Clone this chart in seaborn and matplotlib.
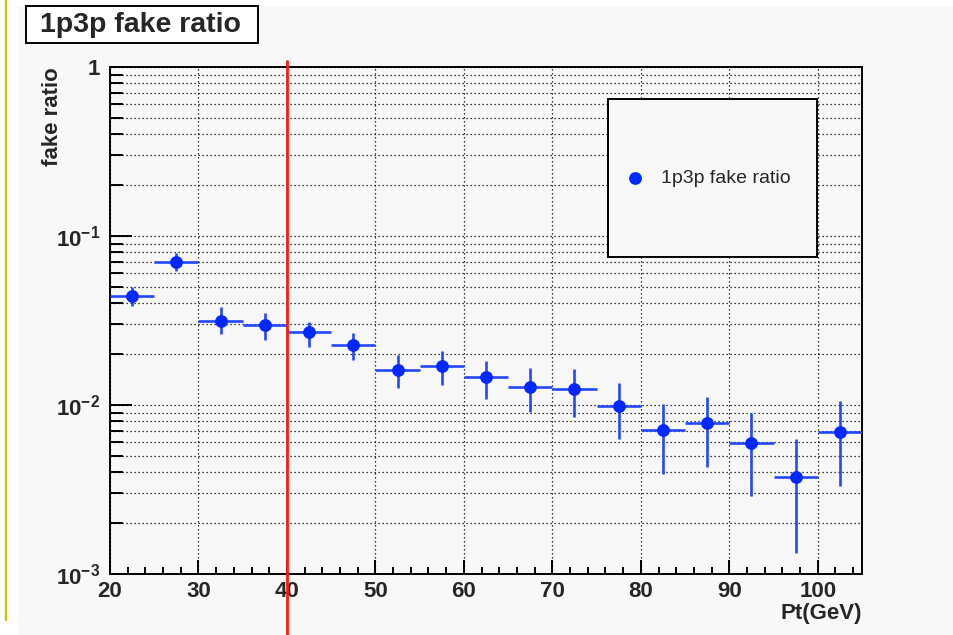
import numpy as np
import pandas as pd
import matplotlib
matplotlib.use("Agg")
import matplotlib.pyplot as plt
import seaborn as sns
from matplotlib.ticker import FixedLocator, FixedFormatter, MultipleLocator, NullFormatter
from matplotlib.patches import Rectangle
from matplotlib.lines import Line2D

# ---------------- data ----------------
pt_center = [22.5, 27.5, 32.5, 37.5, 42.5, 47.5, 52.5, 57.5, 62.5,
             67.5, 72.5, 77.5, 82.5, 87.5, 92.5, 97.5, 102.5]
bin_half_width = [2.5] * 17
fake_ratio = [0.0442, 0.0705, 0.0315, 0.0296, 0.0269, 0.0225, 0.0161, 0.0171, 0.0147,
              0.0127, 0.0125, 0.00986, 0.00711, 0.00779, 0.00593, 0.00377, 0.00695]
ratio_high = [0.0501, 0.0797, 0.0379, 0.0352, 0.0311, 0.0266, 0.0198, 0.0210, 0.0183,
              0.0166, 0.0163, 0.01345, 0.01014, 0.0112, 0.0090, 0.00632, 0.01052]
ratio_low = [0.0385, 0.0621, 0.0262, 0.0243, 0.0219, 0.01846, 0.01265, 0.01312, 0.01081,
             0.0091, 0.00853, 0.00627, 0.00391, 0.00428, 0.0029, 0.00133, 0.00332]
pt_cut = 40
x_ticks = [20, 30, 40, 50, 60, 70, 80, 90, 100]
y_ticks = [1e-3, 1e-2, 1e-1, 1]
y_tick_labels = [r"$\mathbf{10^{-3}}$", r"$\mathbf{10^{-2}}$", r"$\mathbf{10^{-1}}$", r"$\mathbf{1}$"]
title_text = "1p3p fake ratio"
legend_text = "1p3p fake ratio"
x_label = "Pt(GeV)"
y_label = "fake ratio"

df = pd.DataFrame({"pt": pt_center, "ratio": fake_ratio,
                   "hi": ratio_high, "lo": ratio_low, "hw": bin_half_width})

# ---------------- style ----------------
sns.set_style("white")
plt.rcParams["font.family"] = ["Liberation Sans", "DejaVu Sans"]
plt.rcParams["mathtext.fontset"] = "custom"
plt.rcParams["mathtext.bf"] = "Liberation Sans:bold"
plt.rcParams["mathtext.rm"] = "Liberation Sans:bold"

BG = "#f8f8f8"
BLUE = "#0028ff"
EBLUE = "#2448ff"

W, H = 954, 635
fig = plt.figure(figsize=(W / 100, H / 100), dpi=100, facecolor=BG)

# screenshot frame pieces
fig.add_artist(Rectangle((0, 0), 18 / W, 1, transform=fig.transFigure, fc="white", ec="none", zorder=0))
fig.add_artist(Rectangle((0, 1 - 7 / H), 1, 7 / H, transform=fig.transFigure, fc="white", ec="none", zorder=0))
fig.add_artist(Line2D([6.2 / W, 6.2 / W], [1 - 620 / H, 1], transform=fig.transFigure,
                      color="#c8c800", lw=1.7, zorder=1))

L, R, T, B = 110, 862, 67, 574
ax = fig.add_axes([L / W, 1 - B / H, (R - L) / W, (B - T) / H])
ax.set_facecolor(BG)

ax.set_yscale("log")
ax.set_xlim(20, 105)
ax.set_ylim(1e-3, 1)

# grid
ax.set_axisbelow(True)
ax.grid(True, which="major", axis="x", color="black", linestyle=(0, (1, 2.2)), lw=0.9)
ax.grid(True, which="both", axis="y", color="black", linestyle=(0, (1, 2.2)), lw=0.9)

# error bars
ax.errorbar(df["pt"], df["ratio"], xerr=df["hw"],
            yerr=[df["ratio"] - df["lo"], df["hi"] - df["ratio"]],
            fmt="none", ecolor=EBLUE, elinewidth=1.9, capsize=0, zorder=3)
# markers via seaborn
sns.scatterplot(data=df, x="pt", y="ratio", ax=ax, color=BLUE, s=85,
                edgecolor=BLUE, linewidth=0, zorder=4, label=legend_text, legend=False)

# cut line
ax.plot([pt_cut, pt_cut], [-0.121, 1.011], transform=ax.get_xaxis_transform(),
        color="#ff1a0a", lw=2.0, clip_on=False, zorder=20)

# ticks
ax.xaxis.set_major_locator(FixedLocator(x_ticks))
ax.xaxis.set_minor_locator(MultipleLocator(2))
ax.yaxis.set_major_locator(FixedLocator(y_ticks))
ax.yaxis.set_major_formatter(FixedFormatter(y_tick_labels))
minor_y = [m * 10.0 ** e for e in (-3, -2, -1) for m in range(2, 10)]
ax.yaxis.set_minor_locator(FixedLocator(minor_y))
ax.yaxis.set_minor_formatter(NullFormatter())
ax.set_xticklabels([str(t) for t in x_ticks], fontweight="bold")

ax.tick_params(axis="both", which="both", direction="in", top=False, right=False,
               bottom=True, left=True, color="black", width=1.4, labelsize=16)
ax.tick_params(axis="x", which="major", length=10, pad=5)
ax.tick_params(axis="x", which="minor", length=5)
ax.tick_params(axis="y", which="major", length=16, pad=7)
ax.tick_params(axis="y", which="minor", length=9.5)
for lab in ax.get_xticklabels():
    lab.set_fontweight("bold")

for s in ax.spines.values():
    s.set_color("black")
    s.set_linewidth(1.4)

ax.set_xlabel(x_label, loc="right", fontsize=16, fontweight="bold", va="top")
ax.xaxis.set_label_coords(1.0, -0.058)
ax.set_ylabel(y_label, loc="top", fontsize=16, fontweight="bold", va="center")
ax.yaxis.set_label_coords(-0.076, 1.0)

# legend box
lx0, lx1, ly0, ly1 = 608, 817, 99, 257
ax.add_patch(Rectangle(((lx0 - L) / (R - L), (B - ly1) / (B - T)),
                       (lx1 - lx0) / (R - L), (ly1 - ly0) / (B - T),
                       transform=ax.transAxes, fc=BG, ec="black", lw=1.4, zorder=8, clip_on=False))
handles, labels = ax.get_legend_handles_labels()
leg = ax.legend(handles, labels, loc="center left",
                bbox_to_anchor=((625.3 - L) / (R - L), (B - 178) / (B - T)),
                frameon=False, fontsize=14, handlelength=1.0, handletextpad=0.84,
                borderpad=0, borderaxespad=0, markerscale=1.0)
leg.set_zorder(9)

# title box
fig.add_artist(Rectangle((26 / W, 1 - 43 / H), 232 / W, 37 / H, transform=fig.transFigure,
                         fc="white", ec="black", lw=1.4, zorder=5))
fig.text(140 / W, 1 - 25 / H, title_text, ha="center", va="center", fontsize=20.5,
         fontweight="bold", zorder=6)

fig.savefig("out.png", dpi=100, facecolor=BG)
